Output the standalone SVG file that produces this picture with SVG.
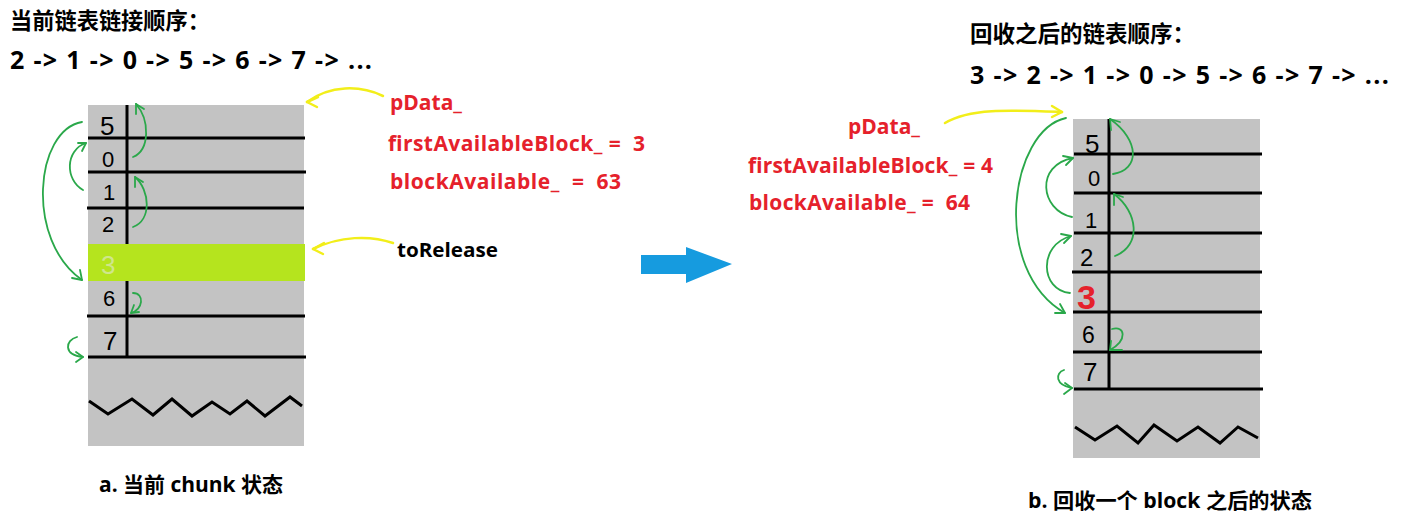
<svg xmlns="http://www.w3.org/2000/svg" width="1403" height="524" viewBox="0 0 1403 524">
<defs>
<style>
text{white-space:pre}
.t{font-family:"Open Sans","Noto Sans CJK SC",sans-serif;font-weight:bold;fill:#000}
.red{font-family:"Open Sans","Noto Sans CJK SC",sans-serif;font-weight:bold;fill:#e5212b;font-size:21px}
.dig{font-family:"Liberation Sans",sans-serif;fill:#000}
.ln{stroke:#000;stroke-width:3;fill:none}
.g{stroke:#2aa84a;stroke-width:1.8;fill:none;stroke-linecap:round}
.y{stroke:#f2ee1a;stroke-width:2.5;fill:none;stroke-linecap:round}
</style>
</defs>
<rect width="1403" height="524" fill="#fff"/>

<g id="left-title">
<text class="t" x="10" y="29" font-size="23" textLength="200" lengthAdjust="spacingAndGlyphs">当前链表链接顺序：</text>
<text class="t" x="10" y="69" font-size="25" textLength="362" lengthAdjust="spacing">2 -&gt; 1 -&gt; 0 -&gt; 5 -&gt; 6 -&gt; 7 -&gt; ...</text>
</g>

<g id="left-chunk">
<rect x="88" y="105" width="216" height="341" fill="#c3c3c3"/>
<rect x="88" y="244" width="217" height="37" fill="#b5e41e"/>
<line class="ln" x1="88" y1="138" x2="305" y2="138"/>
<line class="ln" x1="88" y1="172" x2="306" y2="172"/>
<line class="ln" x1="87" y1="208" x2="304" y2="208"/>
<line class="ln" x1="87" y1="316" x2="305" y2="316"/>
<line class="ln" x1="88" y1="357" x2="306" y2="357"/>
<line class="ln" x1="127" y1="105" x2="127" y2="244"/>
<line class="ln" x1="127" y1="281" x2="127" y2="357"/>
<polyline class="ln" stroke-width="2" points="89,401 108,414 132,399 153,415 172,399 192,416 212,402 230,414 247,401 265,416 290,397 302,406"/>
<text class="dig" x="100" y="135" style="font-size:26px">5</text>
<text class="dig" x="102" y="167" style="font-size:22px">0</text>
<text class="dig" x="103" y="200" style="font-size:22px">1</text>
<text class="dig" x="102" y="232" style="font-size:22px">2</text>
<text class="dig" x="101" y="274" style="font-size:26px;fill:#cfe68c">3</text>
<text class="dig" x="103" y="306" style="font-size:22px">6</text>
<text class="dig" x="103" y="350" style="font-size:26px">7</text>
</g>

<g id="left-labels">
<text class="red" x="390" y="110">pData_</text>
<text class="red" x="388" y="151" textLength="257" lengthAdjust="spacing">firstAvailableBlock_ =  3</text>
<text class="red" x="390" y="189" textLength="231" lengthAdjust="spacing">blockAvailable_  =  63</text>
<text class="t" x="397" y="257" font-size="20" textLength="101" lengthAdjust="spacingAndGlyphs">toRelease</text>
<text class="t" x="99" y="492" font-size="21" textLength="184" lengthAdjust="spacingAndGlyphs">a. 当前 chunk 状态</text>
</g>

<g id="arrow-transition">
<path d="M641,255 H686 V247 L732,264 L686,283 V274 H641 Z" fill="#169bdf"/>
</g>

<g id="right-title">
<text class="t" x="970" y="42" font-size="23" textLength="225" lengthAdjust="spacingAndGlyphs">回收之后的链表顺序：</text>
<text class="t" x="970" y="84" font-size="25" textLength="419" lengthAdjust="spacing">3 -&gt; 2 -&gt; 1 -&gt; 0 -&gt; 5 -&gt; 6 -&gt; 7 -&gt; ...</text>
</g>

<g id="right-chunk">
<rect x="1073" y="119" width="187" height="339" fill="#c3c3c3"/>
<line class="ln" x1="1074" y1="154" x2="1262" y2="154"/>
<line class="ln" x1="1074" y1="193" x2="1262" y2="193"/>
<line class="ln" x1="1074" y1="233" x2="1262" y2="233"/>
<line class="ln" x1="1072" y1="272" x2="1262" y2="272"/>
<line class="ln" x1="1073" y1="312" x2="1262" y2="312"/>
<line class="ln" x1="1073" y1="352" x2="1262" y2="352"/>
<line class="ln" x1="1074" y1="389" x2="1263" y2="389"/>
<line class="ln" x1="1109" y1="119" x2="1109" y2="389"/>
<polyline class="ln" stroke-width="2.5" points="1075,427 1095,440 1117,426 1138,443 1154,425 1177,441 1198,427 1220,443 1238,427 1258,438"/>
<text class="dig" x="1085" y="153" style="font-size:26px">5</text>
<text class="dig" x="1088" y="186" style="font-size:22px">0</text>
<text class="dig" x="1085" y="228" style="font-size:22px">1</text>
<text class="dig" x="1080" y="266" style="font-size:24px">2</text>
<text x="1077" y="309" font-family="Liberation Sans,sans-serif" font-weight="bold" font-size="34" fill="#e5212b">3</text>
<text class="dig" x="1082" y="343" style="font-size:23px">6</text>
<text class="dig" x="1083" y="381" style="font-size:26px">7</text>
</g>

<g id="right-labels">
<text class="red" x="848" y="134">pData_</text>
<text class="red" x="748" y="173" textLength="245" lengthAdjust="spacing">firstAvailableBlock_ = 4</text>
<text class="red" x="749" y="210" textLength="221" lengthAdjust="spacing">blockAvailable_ =  64</text>
<text class="t" x="1028" y="508" font-size="21" textLength="284" lengthAdjust="spacingAndGlyphs">b. 回收一个 block 之后的状态</text>
</g>

<g id="connectors">
<!-- yellow pointers -->
<path class="y" d="M383,96 C360,85 330,85 307,102"/>
<path class="y" d="M307,102 L318,97 M307,102 L317,107"/>
<path class="y" d="M393,243 C370,235 340,236 313,249"/>
<path class="y" d="M313,249 L324,243 M313,249 L323,254"/>
<path class="y" d="M945,123 C970,108 1010,110 1062,112"/>
<path class="y" d="M1062,112 L1052,106 M1062,112 L1052,117"/>

<!-- left green -->
<path class="g" d="M133,157 C150,150 150,120 136,104"/>
<path class="g" d="M136,104 L136,114 M136,104 L144,109"/>
<path class="g" d="M133,227 C152,220 150,190 135,177"/>
<path class="g" d="M135,177 L135,187 M135,177 L143,182"/>
<path class="g" d="M83,190 C65,180 65,150 86,143"/>
<path class="g" d="M86,143 L78,143 M86,143 L82,151"/>
<path class="g" d="M82,122 C35,130 25,240 82,280"/>
<path class="g" d="M82,280 L72,278 M82,280 L80,270"/>
<path class="g" d="M133,293 C145,293 143,310 131,313"/>
<path class="g" d="M131,313 L134,305 M131,313 L139,312"/>
<path class="g" d="M77,337 C65,340 63,355 83,357"/>
<path class="g" d="M83,357 L76,352 M83,357 L76,362"/>

<!-- right green -->
<path class="g" d="M1113,174 C1140,170 1140,140 1110,119"/>
<path class="g" d="M1110,119 L1111,130 M1110,119 L1120,122"/>
<path class="g" d="M1115,256 C1142,245 1138,212 1114,194"/>
<path class="g" d="M1114,194 L1114,205 M1114,194 L1123,197"/>
<path class="g" d="M1072,217 C1040,210 1035,165 1073,158"/>
<path class="g" d="M1073,158 L1063,156 M1073,158 L1066,165"/>
<path class="g" d="M1070,293 C1040,290 1038,245 1071,236"/>
<path class="g" d="M1071,236 L1061,234 M1071,236 L1064,243"/>
<path class="g" d="M1066,118 C1010,130 990,270 1065,313"/>
<path class="g" d="M1065,313 L1055,313 M1065,313 L1060,304"/>
<path class="g" d="M1112,329 C1125,325 1128,340 1110,350"/>
<path class="g" d="M1110,350 L1111,341 M1110,350 L1122,350"/>
<path class="g" d="M1064,370 C1055,373 1055,385 1072,388"/>
<path class="g" d="M1072,388 L1065,383 M1072,388 L1064,394"/>
</g>
</svg>
